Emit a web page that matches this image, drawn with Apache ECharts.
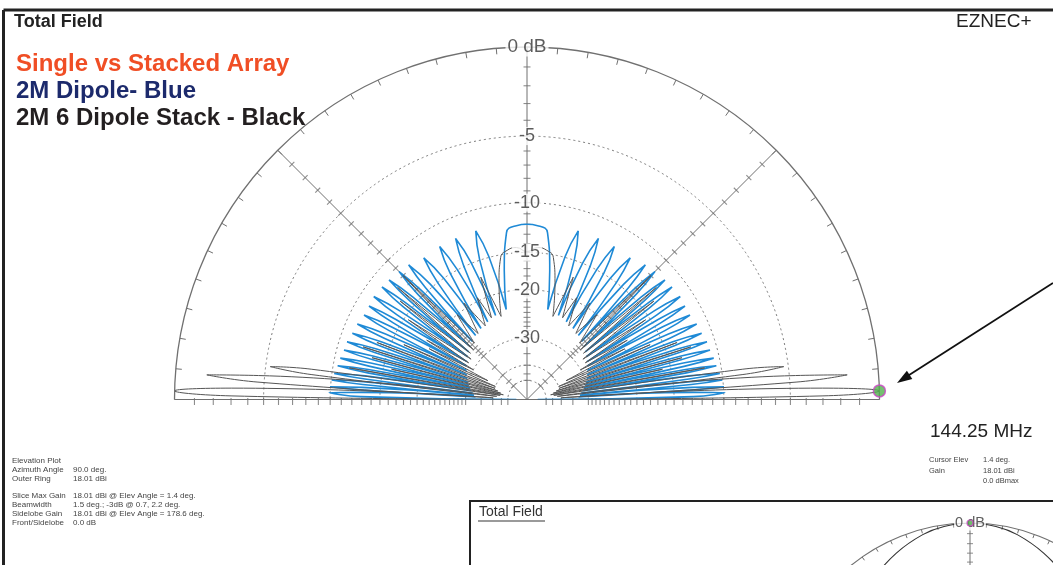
<!DOCTYPE html>
<html>
<head>
<meta charset="utf-8">
<script src="https://cdn.jsdelivr.net/npm/echarts@6/dist/echarts.min.js"></script>
<style>
  html, body { margin: 0; padding: 0; background: #ffffff; }
  #chart { width: 1053px; height: 565px; }
</style>
</head>
<body>
<div id="chart"></div>
<script>
// Elevation pattern, 0..90 deg (symmetric about the zenith), gain in dB re. outer ring.
// One row per lobe: left shoulder, peak, right shoulder, following null.
const dipoleAngles = [
  0,
  1.0, 2.0, 2.45, 2.9,
  3.3, 3.7, 4.2, 4.7,
  5.2, 5.7, 6.2, 6.7,
  7.2, 7.7, 8.3, 8.9,
  9.5, 10.1, 10.7, 11.3,
  11.9, 12.5, 13.15, 13.8,
  14.45, 15.1, 15.75, 16.4,
  17.1, 17.8, 18.55, 19.3,
  20.05, 20.8, 21.6, 22.4,
  23.2, 24.0, 24.85, 25.7,
  26.55, 27.4, 28.2, 29.0,
  29.8, 30.6, 31.4, 32.2,
  33.05, 33.9, 34.85, 35.8,
  36.8, 37.8, 38.55, 39.3,
  40.1, 40.9, 41.9, 42.9,
  43.95, 45.0, 45.9, 46.8,
  47.75, 48.7, 50.0, 51.3,
  52.6, 53.9, 55.5, 57.1,
  58.7, 60.3, 61.75, 63.2,
  64.65, 66.1, 67.8, 69.5,
  71.3, 73.1, 75.05, 77.0,
  80.0, 83.0, 86.5, 90
];
const dipoleDb = [
  -60,
  -12.9, -9.9, -12.9, -33,
  -12.95, -9.95, -12.95, -32.5,
  -13.05, -10.05, -13.05, -32,
  -13.2, -10.2, -13.2, -31.5,
  -13.4, -10.4, -13.4, -31,
  -13.5, -10.5, -13.5, -30.5,
  -13.65, -10.65, -13.65, -30,
  -13.7, -10.7, -13.7, -29.5,
  -13.9, -10.9, -13.9, -29,
  -14.0, -11.0, -14.0, -28.5,
  -14.2, -11.2, -14.2, -28,
  -14.2, -11.2, -14.2, -27.5,
  -14.1, -11.1, -14.1, -27,
  -14.2, -11.2, -14.2, -26.5,
  -14.3, -11.3, -14.3, -26,
  -14.45, -11.45, -14.45, -25.5,
  -14.6, -11.6, -14.6, -25,
  -15.0, -12.0, -15.0, -24.5,
  -14.9, -11.9, -14.9, -24,
  -14.9, -11.9, -14.9, -23.5,
  -14.9, -11.9, -14.9, -23,
  -17.0, -12.7, -12.1, -12.0
];

const stackAngles = [
  0,
  0.7, 1.4, 2.2, 2.9,
  3.7, 4.4, 5.1, 5.9,
  6.6, 7.3, 8.0, 8.8,
  10.1, 11.3, 12.6, 13.8, 15.1, 16.4, 17.8, 19.3, 20.8, 22.4,
  24.0, 25.7, 27.4, 29.0, 30.6, 32.2, 33.9, 35.8, 37.8, 39.3,
  40.9, 42.9, 45.0, 47.0, 50.5, 53.5, 56.8, 60.5, 64.0, 66.5,
  69.3, 72.7, 76.5, 79.5, 82.5, 86.0, 90
];
const stackDb = [
  -60,
  -3, 0, -3, -40,
  -4.6, -1.6, -4.6, -42,
  -8.3, -5.3, -8.3, -44,
  -11.5, -46, -16, -44, -13.5, -42, -12.3, -40, -13.5, -40,
  -16.5, -36, -20, -30, -19, -28, -15.5, -28, -13.5, -27,
  -12.4, -27, -12.0, -26, -20, -25, -19.2, -24.5, -19.5, -23.6,
  -17, -24, -18.5, -15.3, -14.6, -14.4, -14.9
];

// Azimuth inset (second plot), angle in deg, gain in dB
const insetAngles = [45, 55, 65, 75, 82, 90, 98, 105, 115, 125, 135];
const insetDb = [-3.6, -2.3, -1.3, -0.5, -0.15, 0, -0.15, -0.5, -1.3, -2.3, -3.6];

// Grid of the plot
const ringDb = [-5, -10, -15, -20, -30, -40, -50];
const axisLabelDb = [0, -5, -10, -15, -20, -30];
const axisLabelText = ['0 dB', '-5', '-10', '-15', '-20', '-30'];
const tickDb = [-1, -2, -3, -4, -5, -6, -7, -8, -9, -10, -11, -12, -13, -14, -15, -16, -17, -18, -19, -20,
  -21, -22, -23, -24, -25, -26, -27, -28, -29, -30, -35, -40, -45, -50];
const spokeAngles = [0, 45, 90, 135, 180];
const insetTickDb = [-1, -2, -3, -4, -5, -6, -7, -8];

// Cursor
const cursorElev = 1.4;
const cursorDb = 0;

// ARRL log scale: 2 dB per 0.89 of radius
const arrl = db => Math.pow(0.89, -db / 2);

// Right half as listed plus its mirror image about 90 deg. The trace is broken at every
// deep null so each lobe is smoothed on its own and the nulls stay sharp.
function lobeTrace(angles, dbs) {
  const pts = angles.map((a, i) => ({ a, d: dbs[i] }));
  for (let i = angles.length - 2; i >= 0; i--) pts.push({ a: 180 - angles[i], d: dbs[i] });
  const out = [];
  pts.forEach((p, i) => {
    out.push([arrl(p.d), p.a]);
    const isNull = i > 0 && i < pts.length - 1 && p.d <= -20 && p.d < pts[i - 1].d && p.d < pts[i + 1].d;
    if (isNull) {
      out.push(['-', '-']);
      out.push([arrl(p.d), p.a]);
    }
  });
  return out;
}

const FONT = "'Liberation Sans', Arial, Helvetica, sans-serif";
const GRID = '#707070';

const tickData = [];
spokeAngles.forEach(a => {
  tickDb.forEach(d => {
    tickData.push({ value: [arrl(d), a], symbolRotate: a, symbolOffset: (a === 0 || a === 180) ? [0, 2] : [0, 0] });
  });
});

const labelData = axisLabelDb.map((d, i) => ({
  name: axisLabelText[i],
  value: [arrl(d), 90],
  label: { fontSize: i === 0 ? 19 : 18 }
}));

const hiddenRadius = idx => ({
  polarIndex: idx, type: 'value', min: 0, max: 1,
  axisLine: { show: false }, axisTick: { show: false }, axisLabel: { show: false }, splitLine: { show: false }
});

const option = {
  animation: false,
  backgroundColor: '#ffffff',
  polar: [
    { center: [527, 399.5], radius: 352.5 },
    { center: [527, 399.5], radius: 352.5 },
    { center: [970, 711], radius: 188 },
    { center: [970, 711], radius: 188 }
  ],
  angleAxis: [
    {
      polarIndex: 0, type: 'value', min: 0, max: 180, interval: 5,
      startAngle: 0, endAngle: 180, clockwise: false,
      axisLine: { show: true, lineStyle: { color: GRID, width: 1.3 } },
      axisTick: { show: true, inside: true, length: 6, lineStyle: { color: GRID, width: 1 } },
      axisLabel: { show: false }, splitLine: { show: false }
    },
    {
      polarIndex: 1, type: 'value', min: 0, max: 180, interval: 45,
      startAngle: 0, endAngle: 180, clockwise: false,
      axisLine: { show: false }, axisTick: { show: false }, axisLabel: { show: false },
      splitLine: { show: true, lineStyle: { color: GRID, width: 1 } }
    },
    {
      polarIndex: 2, type: 'value', min: 0, max: 180, interval: 5,
      startAngle: 0, endAngle: 180, clockwise: false,
      axisLine: { show: true, lineStyle: { color: GRID, width: 1.2 } },
      axisTick: { show: true, inside: true, length: 4, lineStyle: { color: GRID, width: 1 } },
      axisLabel: { show: false }, splitLine: { show: false }
    },
    {
      polarIndex: 3, type: 'value', min: 0, max: 180, interval: 90,
      startAngle: 0, endAngle: 180, clockwise: false,
      axisLine: { show: false }, axisTick: { show: false }, axisLabel: { show: false },
      splitLine: { show: true, lineStyle: { color: GRID, width: 1 } }
    }
  ],
  radiusAxis: [
    hiddenRadius(0),
    {
      polarIndex: 1, type: 'value', min: 0, max: 1,
      axisLine: { show: false },
      axisTick: { show: false, customValues: ringDb.map(arrl) },
      axisLabel: { show: false, customValues: ringDb.map(arrl) },
      splitLine: { show: true, lineStyle: { color: '#7a7a7a', width: 1, type: [2, 3] } }
    },
    hiddenRadius(2),
    hiddenRadius(3)
  ],
  series: [
    {
      type: 'scatter', name: 'ticks', coordinateSystem: 'polar', polarIndex: 0,
      data: tickData, symbol: 'rect', symbolSize: [1.1, 7],
      itemStyle: { color: GRID }, silent: true, z: 2
    },
    {
      type: 'line', name: '2M Dipole', coordinateSystem: 'polar', polarIndex: 0,
      data: lobeTrace(dipoleAngles, dipoleDb),
      symbol: 'none', smooth: 0.5, connectNulls: false,
      lineStyle: { color: '#1f8ad6', width: 1.6 }, silent: true, z: 3
    },
    {
      type: 'line', name: '2M 6 Dipole Stack', coordinateSystem: 'polar', polarIndex: 0,
      data: lobeTrace(stackAngles, stackDb),
      symbol: 'none', smooth: 0.5, connectNulls: false,
      lineStyle: { color: '#555555', width: 1 }, silent: true, z: 4
    },
    {
      type: 'scatter', name: 'scale labels', coordinateSystem: 'polar', polarIndex: 0,
      data: labelData, symbol: 'circle', symbolSize: 1,
      itemStyle: { color: 'rgba(0,0,0,0)' },
      label: {
        show: true, position: 'inside', formatter: '{b}', fontFamily: FONT,
        color: '#333333', backgroundColor: '#ffffff', padding: [0, 2]
      },
      silent: true, z: 10
    },
    {
      type: 'scatter', name: 'cursor', coordinateSystem: 'polar', polarIndex: 0,
      data: [[arrl(cursorDb), cursorElev]], symbol: 'circle', symbolSize: 12,
      itemStyle: { color: '#52b04e', borderColor: '#c944c4', borderWidth: 1.5 },
      silent: true, z: 12
    },
    {
      type: 'scatter', name: 'inset ticks', coordinateSystem: 'polar', polarIndex: 2,
      data: insetTickDb.map(d => ({ value: [arrl(d), 90], symbolRotate: 90 })),
      symbol: 'rect', symbolSize: [1, 6], itemStyle: { color: GRID }, silent: true, z: 2
    },
    {
      type: 'line', name: 'inset pattern', coordinateSystem: 'polar', polarIndex: 2,
      data: insetAngles.map((a, i) => [arrl(insetDb[i]), a]),
      symbol: 'none', smooth: 0.4,
      lineStyle: { color: '#333333', width: 1.1 }, silent: true, z: 4
    },
    {
      type: 'scatter', name: 'inset label', coordinateSystem: 'polar', polarIndex: 2,
      data: [{ name: '0 dB', value: [1, 90] }], symbol: 'circle', symbolSize: 1,
      itemStyle: { color: 'rgba(0,0,0,0)' },
      label: {
        show: true, position: 'inside', formatter: '{b}', fontFamily: FONT, fontSize: 14.5,
        color: '#333333', backgroundColor: '#ffffff', padding: [0, 1]
      },
      silent: true, z: 10
    },
    {
      type: 'scatter', name: 'inset cursor', coordinateSystem: 'polar', polarIndex: 2,
      data: [[1, 90]], symbol: 'circle', symbolSize: 6,
      itemStyle: { color: '#52b04e', borderColor: '#c944c4', borderWidth: 1.2 },
      silent: true, z: 12
    }
  ],
  graphic: [
    // outer frame
    { type: 'line', shape: { x1: 3.5, y1: 10, x2: 1053, y2: 10 }, style: { stroke: '#222', lineWidth: 3 }, z: 20 },
    { type: 'line', shape: { x1: 3.5, y1: 10, x2: 3.5, y2: 565 }, style: { stroke: '#222', lineWidth: 3 }, z: 20 },
    // inset frame
    { type: 'rect', shape: { x: 470, y: 501, width: 600, height: 80 }, style: { fill: 'rgba(255,255,255,0)', stroke: '#222', lineWidth: 2 }, z: 20 },
    { type: 'text', style: { text: 'Total Field', x: 479, y: 512, font: `14px ${FONT}`, fill: '#333', verticalAlign: 'middle' }, z: 20 },
    { type: 'line', shape: { x1: 478, y1: 521, x2: 545, y2: 521 }, style: { stroke: '#9a9a9a', lineWidth: 2 }, z: 20 },
    // titles
    { type: 'text', style: { text: 'Total Field', x: 14, y: 22, font: `bold 18px ${FONT}`, fill: '#222', verticalAlign: 'middle' }, z: 20 },
    { type: 'text', style: { text: 'EZNEC+', x: 956, y: 22, font: `19px ${FONT}`, fill: '#222', verticalAlign: 'middle' }, z: 20 },
    { type: 'text', style: { text: 'Single vs Stacked Array', x: 16, y: 64, font: `bold 24px ${FONT}`, fill: '#f04e25', verticalAlign: 'middle' }, z: 20 },
    { type: 'text', style: { text: '2M Dipole- Blue', x: 16, y: 91, font: `bold 24px ${FONT}`, fill: '#1c2a6c', verticalAlign: 'middle' }, z: 20 },
    { type: 'text', style: { text: '2M 6 Dipole Stack - Black', x: 16, y: 118.5, font: `bold 24px ${FONT}`, fill: '#231f20', verticalAlign: 'middle' }, z: 20 },
    { type: 'text', style: { text: '144.25 MHz', x: 930, y: 432, font: `19px ${FONT}`, fill: '#222', verticalAlign: 'middle' }, z: 20 },
    // cursor readout
    { type: 'text', style: { text: 'Cursor Elev\nGain', x: 929, y: 455, font: `7.5px ${FONT}`, fill: '#444', lineHeight: 10.5 }, z: 20 },
    { type: 'text', style: { text: '1.4 deg.\n18.01 dBi\n0.0 dBmax', x: 983, y: 455, font: `7.5px ${FONT}`, fill: '#444', lineHeight: 10.5 }, z: 20 },
    // plot description
    { type: 'text', style: { text: 'Elevation Plot\nAzimuth Angle\nOuter Ring\n\nSlice Max Gain\nBeamwidth\nSidelobe Gain\nFront/Sidelobe', x: 12, y: 456.5, font: `8px ${FONT}`, fill: '#444', lineHeight: 8.8 }, z: 20 },
    { type: 'text', style: { text: '\n90.0 deg.\n18.01 dBi\n\n18.01 dBi @ Elev Angle = 1.4 deg.\n1.5 deg.; -3dB @ 0.7, 2.2 deg.\n18.01 dBi @ Elev Angle = 178.6 deg.\n0.0 dB', x: 73, y: 456.5, font: `8px ${FONT}`, fill: '#444', lineHeight: 8.8 }, z: 20 },
    // pointer arrow to the cursor
    { type: 'line', shape: { x1: 1053, y1: 283, x2: 906, y2: 377 }, style: { stroke: '#111', lineWidth: 1.8 }, z: 20 },
    { type: 'polygon', shape: { points: [[897, 383], [912.3, 379.1], [906.9, 370.7]] }, style: { fill: '#111' }, z: 20 }
  ]
};

const chart = echarts.init(document.getElementById('chart'), null, { renderer: 'canvas' });
chart.setOption(option);
</script>
</body>
</html>
